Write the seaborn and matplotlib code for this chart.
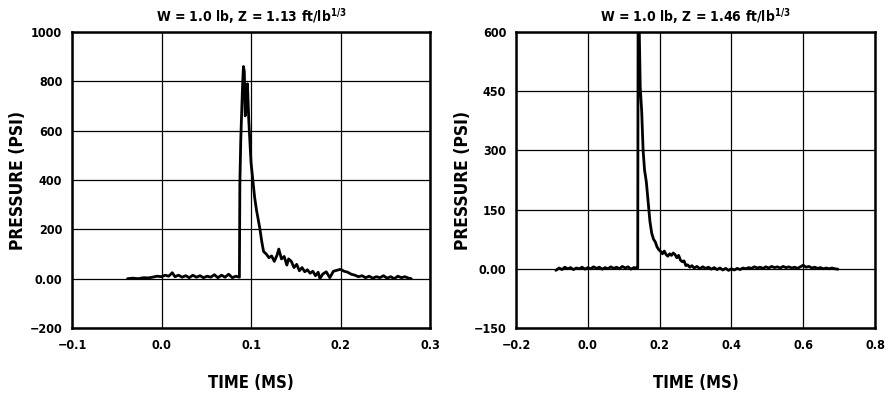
import matplotlib
matplotlib.use("Agg")
import matplotlib.pyplot as plt
import seaborn as sns

# left trace: W = 1.0 lb, Z = 1.13
t_left = [-0.038, -0.032, -0.026, -0.020, -0.015, -0.010, -0.005, 0.000, 0.004, 0.008,
          0.012, 0.015, 0.019, 0.023, 0.027, 0.031, 0.035, 0.039, 0.043, 0.047,
          0.051, 0.055, 0.059, 0.063, 0.067, 0.071, 0.075, 0.079, 0.083, 0.087,
          0.0875, 0.0885, 0.0905, 0.0915, 0.0925, 0.0935, 0.095, 0.096, 0.0975, 0.100,
          0.102, 0.104, 0.106, 0.108, 0.110, 0.112, 0.114, 0.117, 0.120, 0.123,
          0.126, 0.129, 0.131, 0.134, 0.137, 0.140, 0.142, 0.145, 0.148, 0.151,
          0.154, 0.157, 0.160, 0.163, 0.166, 0.169, 0.172, 0.175, 0.177, 0.180,
          0.184, 0.188, 0.192, 0.196, 0.200, 0.204, 0.208, 0.212, 0.216, 0.220,
          0.224, 0.228, 0.232, 0.236, 0.240, 0.244, 0.248, 0.252, 0.256, 0.260,
          0.264, 0.268, 0.272, 0.276, 0.279]
p_left = [0, 2, 0, 4, 3, 6, 10, 8, 14, 10,
          24, 8, 14, 6, 12, 4, 14, 6, 12, 4,
          10, 6, 16, 4, 14, 6, 18, 4, 10, 6,
          380, 560, 780, 860, 840, 660, 700, 790, 640, 470,
          400, 330, 280, 240, 200, 150, 110, 100, 85, 92,
          70, 95, 120, 80, 90, 55, 80, 70, 45, 58,
          32, 45, 28, 36, 22, 30, 12, 26, 0, 18,
          28, 4, 30, 34, 38, 30, 26, 18, 14, 8,
          12, 4, 10, 2, 8, 4, 12, 2, 8, 0,
          10, 4, 8, 2, 0]

# right trace: W = 1.0 lb, Z = 1.46
t_right = [-0.089, -0.080, -0.072, -0.064, -0.056, -0.048, -0.040, -0.032, -0.024, -0.016,
           -0.008, 0.000, 0.008, 0.016, 0.024, 0.032, 0.040, 0.048, 0.056, 0.064,
           0.072, 0.080, 0.088, 0.096, 0.104, 0.112, 0.120, 0.128, 0.136, 0.139,
           0.140, 0.143, 0.146, 0.150, 0.154, 0.158, 0.163, 0.168, 0.173, 0.178,
           0.183, 0.188, 0.193, 0.198, 0.203, 0.208, 0.213, 0.218, 0.223, 0.228,
           0.233, 0.238, 0.243, 0.248, 0.253, 0.258, 0.263, 0.268, 0.273, 0.278,
           0.284, 0.290, 0.296, 0.304, 0.312, 0.320, 0.328, 0.336, 0.344, 0.352,
           0.360, 0.368, 0.376, 0.384, 0.392, 0.400, 0.408, 0.416, 0.424, 0.432,
           0.440, 0.448, 0.456, 0.464, 0.472, 0.480, 0.488, 0.496, 0.504, 0.512,
           0.520, 0.528, 0.536, 0.544, 0.552, 0.560, 0.568, 0.576, 0.584, 0.592,
           0.600, 0.608, 0.616, 0.624, 0.632, 0.640, 0.648, 0.656, 0.664, 0.672,
           0.680, 0.688, 0.697]
p_right = [-4, 2, -2, 4, 0, 3, -2, 2, 0, 4,
           -1, 3, 0, 5, 1, 4, -1, 3, 0, 5,
           1, 4, 0, 6, 2, 5, -1, 3, 2, 2,
           620, 620, 460, 400, 300, 250, 220, 170, 120, 90,
           75, 68, 55, 48, 44, 38, 45, 36, 32, 38,
           34, 40, 36, 28, 34, 22, 18, 20, 8, 10,
           4, 8, 2, 6, 0, 5, 1, 4, -1, 3,
           -2, 2, -3, 1, -4, 0, -3, 1, -2, 2,
           0, 3, 1, 5, 2, 4, 1, 5, 2, 6,
           3, 5, 2, 6, 3, 5, 2, 4, 1, 5,
           9, 4, 6, 2, 4, 1, 3, 0, 2, 0,
           2, 0, -1]

titles = [r"W = 1.0 lb, Z = 1.13 ft/lb$^{\mathbf{1/3}}$",
          r"W = 1.0 lb, Z = 1.46 ft/lb$^{\mathbf{1/3}}$"]
xticks_left = [-0.1, 0.0, 0.1, 0.2, 0.3]
yticks_left = [-200, 0, 200, 400, 600, 800, 1000]
ylabels_left = ["\u2212200", "0.00", "200", "400", "600", "800", "1000"]
xticks_right = [-0.2, 0.0, 0.2, 0.4, 0.6, 0.8]
yticks_right = [-150, 0, 150, 300, 450, 600]
ylabels_right = ["\u2212150", "0.00", "150", "300", "450", "600"]

sns.set_style("white")
plt.rcParams["font.family"] = ["DejaVu Sans"]
plt.rcParams["font.stretch"] = "condensed"
plt.rcParams["font.weight"] = "bold"
plt.rcParams["mathtext.default"] = "bf"
plt.rcParams["text.color"] = "black"
plt.rcParams["xtick.color"] = "black"
plt.rcParams["ytick.color"] = "black"
plt.rcParams["axes.labelcolor"] = "black"

fig = plt.figure(figsize=(8.88, 3.98), dpi=100)
ax1 = fig.add_axes([0.0811, 0.1759, 0.4032, 0.7437])
ax2 = fig.add_axes([0.5811, 0.1759, 0.4043, 0.7437])

panels = [
    (ax1, t_left, p_left, xticks_left, yticks_left, ylabels_left, titles[0]),
    (ax2, t_right, p_right, xticks_right, yticks_right, ylabels_right, titles[1]),
]

for ax, t, p, xt, yt, yl, title in panels:
    sns.lineplot(x=t, y=p, ax=ax, color="black", linewidth=2.0, estimator=None)
    ax.set_xlim(xt[0], xt[-1])
    ax.set_ylim(yt[0], yt[-1])
    ax.set_xticks(xt)
    ax.set_xticklabels([f"{v:.1f}".replace("-", "\u2212") for v in xt])
    ax.set_yticks(yt)
    ax.set_yticklabels(yl)
    ax.grid(True, color="black", linewidth=0.9)
    ax.tick_params(length=0, labelsize=9)
    ax.tick_params(axis="x", pad=8)
    ax.tick_params(axis="y", pad=7)
    for lab in ax.get_xticklabels() + ax.get_yticklabels():
        lab.set_fontweight("bold")
        lab.set_fontstretch("condensed")
    for s in ax.spines.values():
        s.set_color("black")
        s.set_linewidth(1.8)
    ax.set_title(title, fontsize=10, fontweight="bold", pad=7, color="black")
    ax.set_xlabel("TIME (MS)", fontsize=12, fontweight="bold")
    ax.set_ylabel("PRESSURE (PSI)", fontsize=12.5, fontweight="bold")
    ax.xaxis.set_label_coords(0.5, -0.155)

ax1.yaxis.set_label_coords(-0.125, 0.5)
ax2.yaxis.set_label_coords(-0.123, 0.5)

fig.savefig("out.png", dpi=100)
